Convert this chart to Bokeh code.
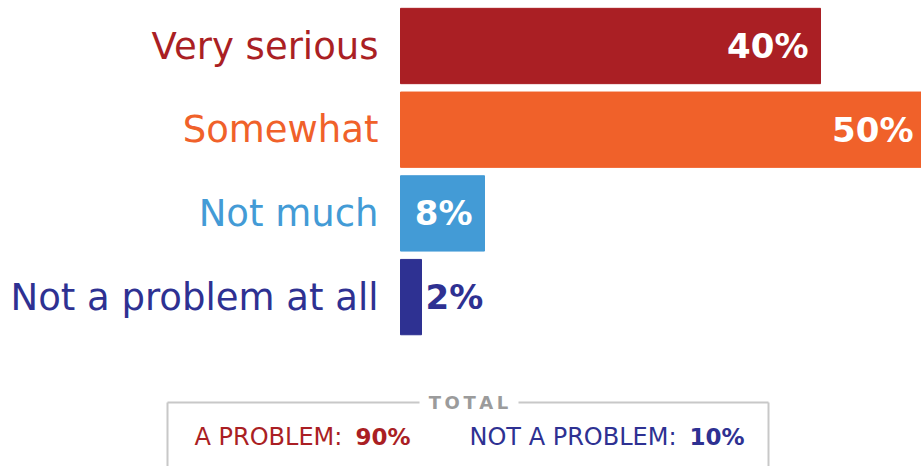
from bokeh.plotting import figure
from bokeh.models import Range1d, ColumnDataSource
from bokeh.core.properties import value
from bokeh.embed import file_html
from bokeh.resources import INLINE

categories = ["Very serious", "Somewhat", "Not much", "Not a problem at all"]
values = [40, 50, 8, 2]
colors = ["#AA1F24", "#F0612A", "#439BD6", "#2E3192"]
problem_idx = [0, 1]
not_problem_idx = [2, 3]

W, H = 921, 466
PX_PER = 10.5
X0 = 400  # frame px of value 0
ROW = 83.7
Y0 = 45.5

def sx(px):  # screen px -> data x
    return (px - X0) / PX_PER

def sy(py):  # screen py -> data y
    return (py - Y0) / ROW

p = figure(width=W, height=H, output_backend="svg", toolbar_location=None,
           x_range=Range1d(-X0 / PX_PER, (W - X0) / PX_PER),
           y_range=Range1d((H - Y0) / ROW, -Y0 / ROW),
           min_border=0, outline_line_color=None)
p.axis.visible = False
p.grid.visible = False

FONT = value("DejaVu Sans")
idx = list(range(len(categories)))
src = ColumnDataSource(dict(y=idx, v=values, c=colors, cat=categories))
p.hbar(y="y", left=0, right="v", height=0.9, color="c", source=src)

p.text(x=0, y="y", text="cat", text_color="c", source=src, x_offset=-22,
       text_align="right", text_baseline="middle", text_font=FONT,
       text_font_size="37px")

inside = [i for i in idx if values[i] >= 5]
outside = [i for i in idx if values[i] < 5]
p.text(x=[values[i] for i in inside], y=inside,
       text=[f"{values[i]}%" for i in inside], text_color="white",
       x_offset=-12, text_align="right", text_baseline="middle",
       text_font=FONT, text_font_style="bold", text_font_size="34px")
p.text(x=[values[i] for i in outside], y=outside,
       text=[f"{values[i]}%" for i in outside],
       text_color=[colors[i] for i in outside],
       x_offset=4, text_align="left", text_baseline="middle",
       text_font=FONT, text_font_style="bold", text_font_size="34px")

# total box
gray = "#C8C8C8"
top = sy(402)
bot = sy(490)
p.segment(x0=[sx(167), sx(518), sx(167), sx(768)],
          y0=[top, top, top, top],
          x1=[sx(419), sx(768), sx(167), sx(768)],
          y1=[top, top, bot, bot], line_color=gray, line_width=2)
p.text(x=[sx(468)], y=[top], text=["T\u2009O\u2009T\u2009A\u2009L"],
       text_color="#9B9B9B", text_align="center", text_baseline="middle",
       text_font=FONT, text_font_style="bold", text_font_size="18px")

prob = sum(values[i] for i in problem_idx)
notprob = sum(values[i] for i in not_problem_idx)
ty = sy(436)
p.text(x=[sx(194), sx(469)], y=[ty, ty], text=["A PROBLEM:", "NOT A PROBLEM:"],
       text_color=[colors[0], colors[3]], text_align="left",
       text_baseline="middle", text_font=FONT, text_font_size="24px")
p.text(x=[sx(355), sx(689)], y=[ty, ty], text=[f"{prob}%", f"{notprob}%"],
       text_color=[colors[0], colors[3]], text_align="left",
       text_baseline="middle", text_font=FONT, text_font_style="bold",
       text_font_size="23px")

open("out.html", "w").write(file_html(p, INLINE))
